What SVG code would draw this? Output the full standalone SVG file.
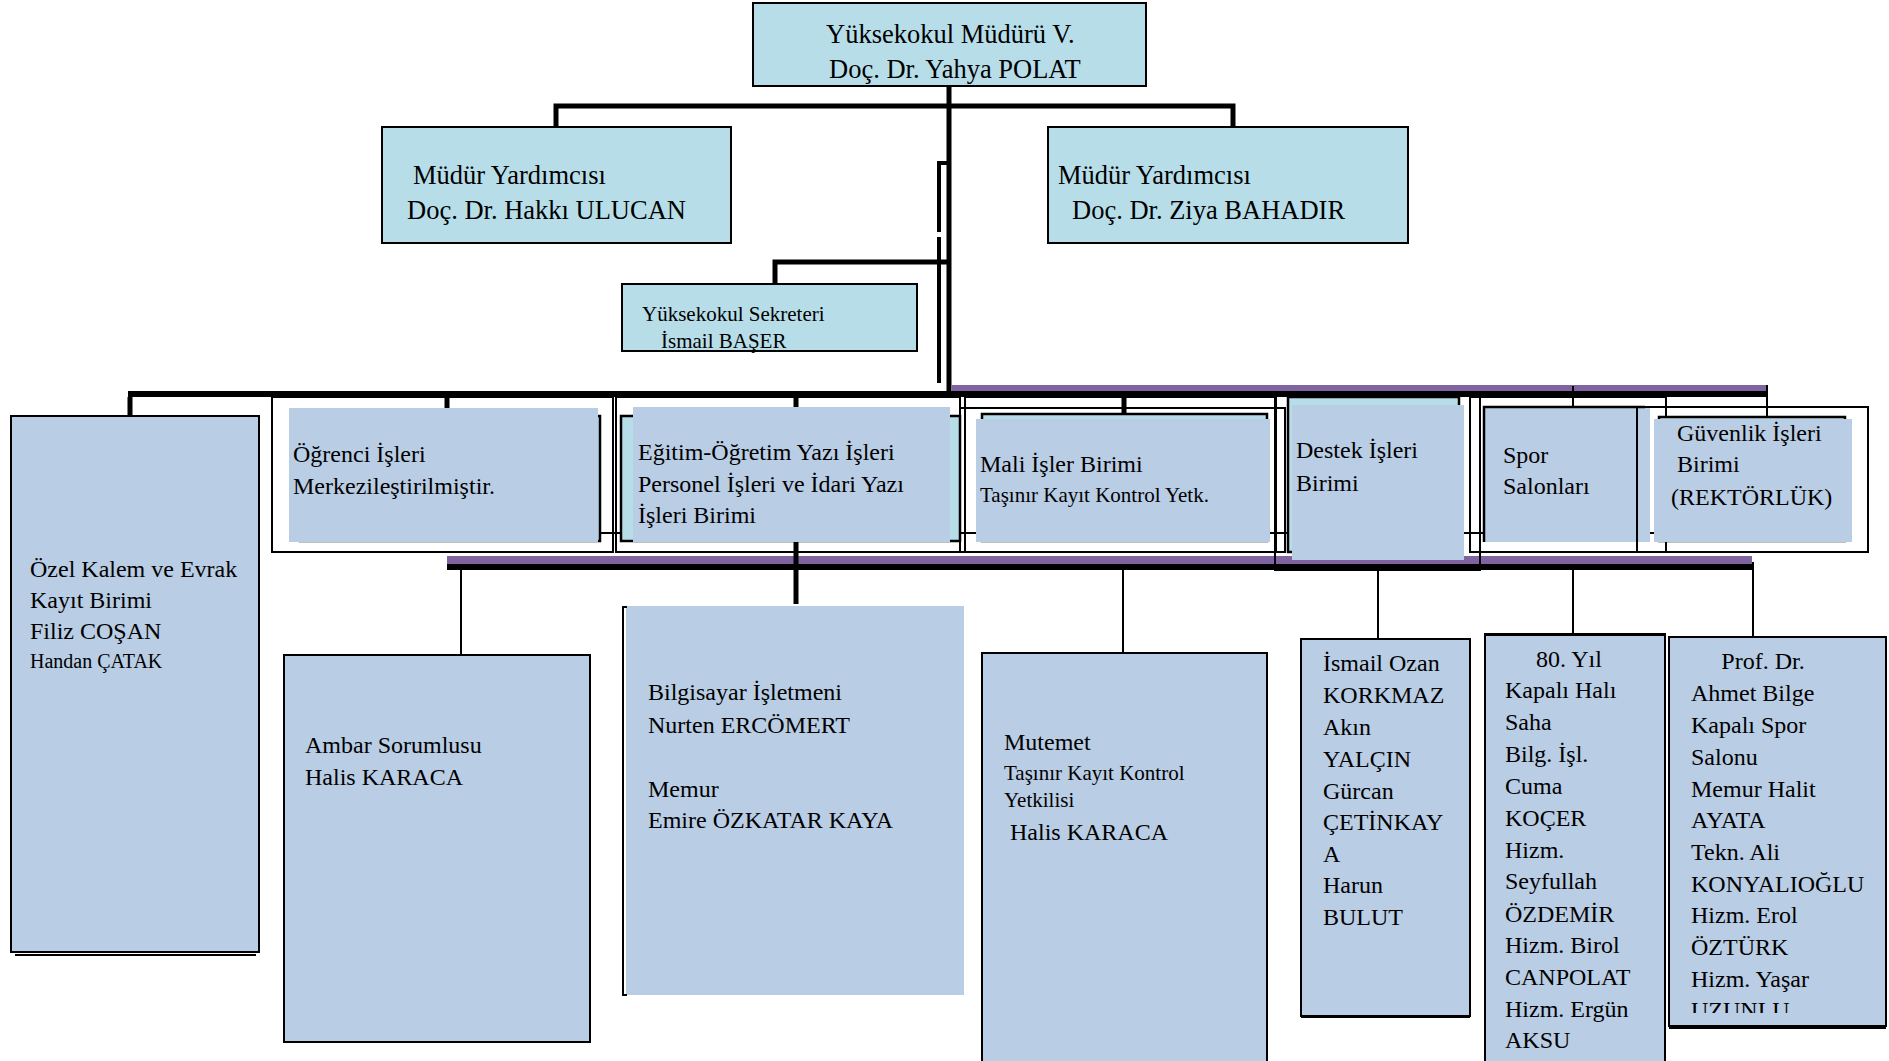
<svg xmlns="http://www.w3.org/2000/svg" width="1889" height="1061" viewBox="0 0 1889 1061">
<style>
text{font-family:"Liberation Serif","Times New Roman",serif;fill:#000}
.t26{font-size:26.5px}.t24{font-size:24px}.t21{font-size:21px}.t20{font-size:20px}
.teal{fill:#b7dee8;stroke:#000;stroke-width:2}
.bx{fill:#b9cde5;stroke:#000;stroke-width:2}
.blue{fill:#b9cde5}
.outl{fill:none;stroke:#000;stroke-width:2}
.shad{fill:#b7dee8;stroke:#000;stroke-width:2.5}
.thick{stroke:#000;stroke-width:5;fill:none}
.thin{stroke:#000;stroke-width:2;fill:none}
</style>
<defs>
<clipPath id="profclip"><rect x="1669" y="637" width="218" height="376"/></clipPath>
</defs>
<rect width="1889" height="1061" fill="#fff"/>

<g id="connectors">
<path class="thick" d="M949,86 V393"/>
<path class="thick" d="M556,127 V106 H1233 V127"/>
<path class="thick" d="M949,163 H939 V232 M939,237 V383" style="stroke-width:4"/>
<path class="thick" d="M947,262 H775 V284"/>
<rect x="952" y="385" width="816" height="6" fill="#8064a2"/>
<rect x="128" y="391" width="1640" height="6" fill="#000"/>
<path class="thick" d="M130,397 V416 M447,397 V408 M796,397 V407 M1124,397 V414"/>
<path class="thin" d="M1378,393 V397 M1573,386 V407 M1767,385 V417"/>
<rect x="447" y="556" width="1305" height="8" fill="#8064a2"/>
<rect x="447" y="564" width="1305" height="6" fill="#000"/>
<path class="thick" d="M796,542 V604"/>
<path class="thin" d="M461,570 V655 M1123,570 V653 M1378,570 V639 M1573,570 V634 M1753,562 V637"/>
<path class="thin" d="M598,533 H1654"/>
</g>

<g id="n-mudur">
<rect class="teal" x="753" y="3" width="393" height="83"/>
<text class="t26" x="826" y="43">Yüksekokul Müdürü V.</text>
<text class="t26" x="829" y="78">Doç. Dr. Yahya POLAT</text>
</g>
<g id="n-yard1">
<rect class="teal" x="382" y="127" width="349" height="116"/>
<text class="t26" x="413" y="184">Müdür Yardımcısı</text>
<text class="t26" x="407" y="219">Doç. Dr. Hakkı ULUCAN</text>
</g>
<g id="n-yard2">
<rect class="teal" x="1048" y="127" width="360" height="116"/>
<text class="t26" x="1058" y="184">Müdür Yardımcısı</text>
<text class="t26" x="1072" y="219">Doç. Dr. Ziya BAHADIR</text>
</g>
<g id="n-sekreter">
<rect class="teal" x="622" y="284" width="295" height="67"/>
<text class="t21" x="642" y="321">Yüksekokul Sekreteri</text>
<text class="t21" x="661" y="348">İsmail BAŞER</text>
</g>

<g id="n-ozelkalem">
<rect class="bx" x="11" y="416" width="248" height="536"/>
<path class="thin" d="M15,955 H256"/>
<text class="t24" x="30" y="577">Özel Kalem ve Evrak</text>
<text class="t24" x="30" y="608">Kayıt Birimi</text>
<text class="t24" x="30" y="639">Filiz COŞAN</text>
<text class="t20" x="30" y="668">Handan ÇATAK</text>
</g>
<g id="n-ogrenci">
<rect class="outl" x="272" y="397" width="341" height="155"/>
<rect class="shad" x="300" y="416" width="300" height="125"/>
<rect class="blue" x="289" y="408" width="309" height="134"/>
<text class="t24" x="293" y="462">Öğrenci İşleri</text>
<text class="t24" x="293" y="494">Merkezileştirilmiştir.</text>
</g>
<g id="n-egitim">
<rect class="outl" x="616" y="397" width="344" height="155"/>
<rect class="shad" x="621" y="416" width="339" height="125"/>
<rect class="blue" x="633" y="407" width="317" height="135"/>
<text class="t24" x="638" y="460">Eğitim-Öğretim Yazı İşleri</text>
<text class="t24" x="638" y="492">Personel İşleri ve İdari Yazı</text>
<text class="t24" x="638" y="523">İşleri Birimi</text>
</g>
<g id="n-mali">
<rect class="outl" x="965" y="397" width="311" height="155"/>
<rect class="outl" x="960" y="408" width="325" height="144"/>
<rect class="shad" x="982" y="414" width="285" height="127"/>
<rect class="blue" x="976" y="419" width="294" height="123"/>
<text class="t24" x="980" y="472">Mali İşler Birimi</text>
<text class="t21" x="980" y="502">Taşınır Kayıt Kontrol Yetk.</text>
</g>
<g id="n-destek">
<rect class="outl" x="1275" y="393" width="205" height="177"/>
<rect class="shad" x="1288" y="397" width="171" height="155"/>
<rect class="blue" x="1292" y="405" width="172" height="155"/>
<text class="t24" x="1296" y="458">Destek İşleri</text>
<text class="t24" x="1296" y="491">Birimi</text>
</g>
<g id="n-spor">
<rect class="outl" x="1470" y="397" width="196" height="155"/>
<rect class="blue" x="1484" y="407" width="166" height="135"/>
<path class="thin" d="M1484,542 V407 H1645" style="stroke-width:2.5"/>
<text class="t24" x="1503" y="463">Spor</text>
<text class="t24" x="1503" y="494">Salonları</text>
</g>
<g id="n-guvenlik">
<rect class="outl" x="1637" y="407" width="231" height="145"/>
<rect class="shad" x="1659" y="417" width="186" height="124"/>
<rect class="blue" x="1654" y="419" width="198" height="123"/>
<text class="t24" x="1677" y="441">Güvenlik İşleri</text>
<text class="t24" x="1677" y="472">Birimi</text>
<text class="t24" x="1671" y="505">(REKTÖRLÜK)</text>
</g>

<g id="n-ambar">
<rect class="bx" x="284" y="655" width="306" height="387"/>
<text class="t24" x="305" y="753">Ambar Sorumlusu</text>
<text class="t24" x="305" y="785">Halis KARACA</text>
</g>
<g id="n-bilgisayar">
<rect class="blue" x="626" y="606" width="338" height="389"/>
<path class="thin" d="M627,607 H623 V995 H627"/>
<text class="t24" x="648" y="700">Bilgisayar İşletmeni</text>
<text class="t24" x="648" y="733">Nurten ERCÖMERT</text>
<text class="t24" x="648" y="797">Memur</text>
<text class="t24" x="648" y="828">Emire ÖZKATAR KAYA</text>
</g>
<g id="n-mutemet">
<rect class="bx" x="982" y="653" width="285" height="420"/>
<text class="t24" x="1004" y="750">Mutemet</text>
<text class="t21" x="1004" y="780">Taşınır Kayıt Kontrol</text>
<text class="t21" x="1004" y="807">Yetkilisi</text>
<text class="t24" x="1010" y="840">Halis KARACA</text>
</g>
<g id="n-destek-personel">
<rect class="bx" x="1301" y="639" width="169" height="377"/>
<path class="thin" d="M1301,1017 H1470"/>
<text class="t24" x="1323" y="671">İsmail Ozan</text>
<text class="t24" x="1323" y="703">KORKMAZ</text>
<text class="t24" x="1323" y="735">Akın</text>
<text class="t24" x="1323" y="767">YALÇIN</text>
<text class="t24" x="1323" y="799">Gürcan</text>
<text class="t24" x="1323" y="830">ÇETİNKAY</text>
<text class="t24" x="1323" y="862">A</text>
<text class="t24" x="1323" y="893">Harun</text>
<text class="t24" x="1323" y="925">BULUT</text>
</g>
<g id="n-spor-personel">
<rect class="bx" x="1485" y="634" width="180" height="440"/>
<path class="thin" d="M1485,635 H1665"/>
<text class="t24" x="1569" y="667" text-anchor="middle">80. Yıl</text>
<text class="t24" x="1505" y="698">Kapalı Halı</text>
<text class="t24" x="1505" y="730">Saha</text>
<text class="t24" x="1505" y="762">Bilg. İşl.</text>
<text class="t24" x="1505" y="794">Cuma</text>
<text class="t24" x="1505" y="826">KOÇER</text>
<text class="t24" x="1505" y="858">Hizm.</text>
<text class="t24" x="1505" y="889">Seyfullah</text>
<text class="t24" x="1505" y="922">ÖZDEMİR</text>
<text class="t24" x="1505" y="953">Hizm. Birol</text>
<text class="t24" x="1505" y="985">CANPOLAT</text>
<text class="t24" x="1505" y="1017">Hizm. Ergün</text>
<text class="t24" x="1505" y="1048">AKSU</text>
</g>
<g id="n-guvenlik-personel">
<rect class="bx" x="1669" y="637" width="217" height="389"/>
<path class="thin" d="M1669,1028 H1886"/>
<g clip-path="url(#profclip)">
<text class="t24" x="1763" y="669" text-anchor="middle">Prof. Dr.</text>
<text class="t24" x="1691" y="701">Ahmet Bilge</text>
<text class="t24" x="1691" y="733">Kapalı Spor</text>
<text class="t24" x="1691" y="765">Salonu</text>
<text class="t24" x="1691" y="797">Memur Halit</text>
<text class="t24" x="1691" y="828">AYATA</text>
<text class="t24" x="1691" y="860">Tekn. Ali</text>
<text class="t24" x="1691" y="892">KONYALIOĞLU</text>
<text class="t24" x="1691" y="923">Hizm. Erol</text>
<text class="t24" x="1691" y="955">ÖZTÜRK</text>
<text class="t24" x="1691" y="987">Hizm. Yaşar</text>
<text class="t24" x="1691" y="1018">UZUNLU</text>
</g>
</g>
</svg>
